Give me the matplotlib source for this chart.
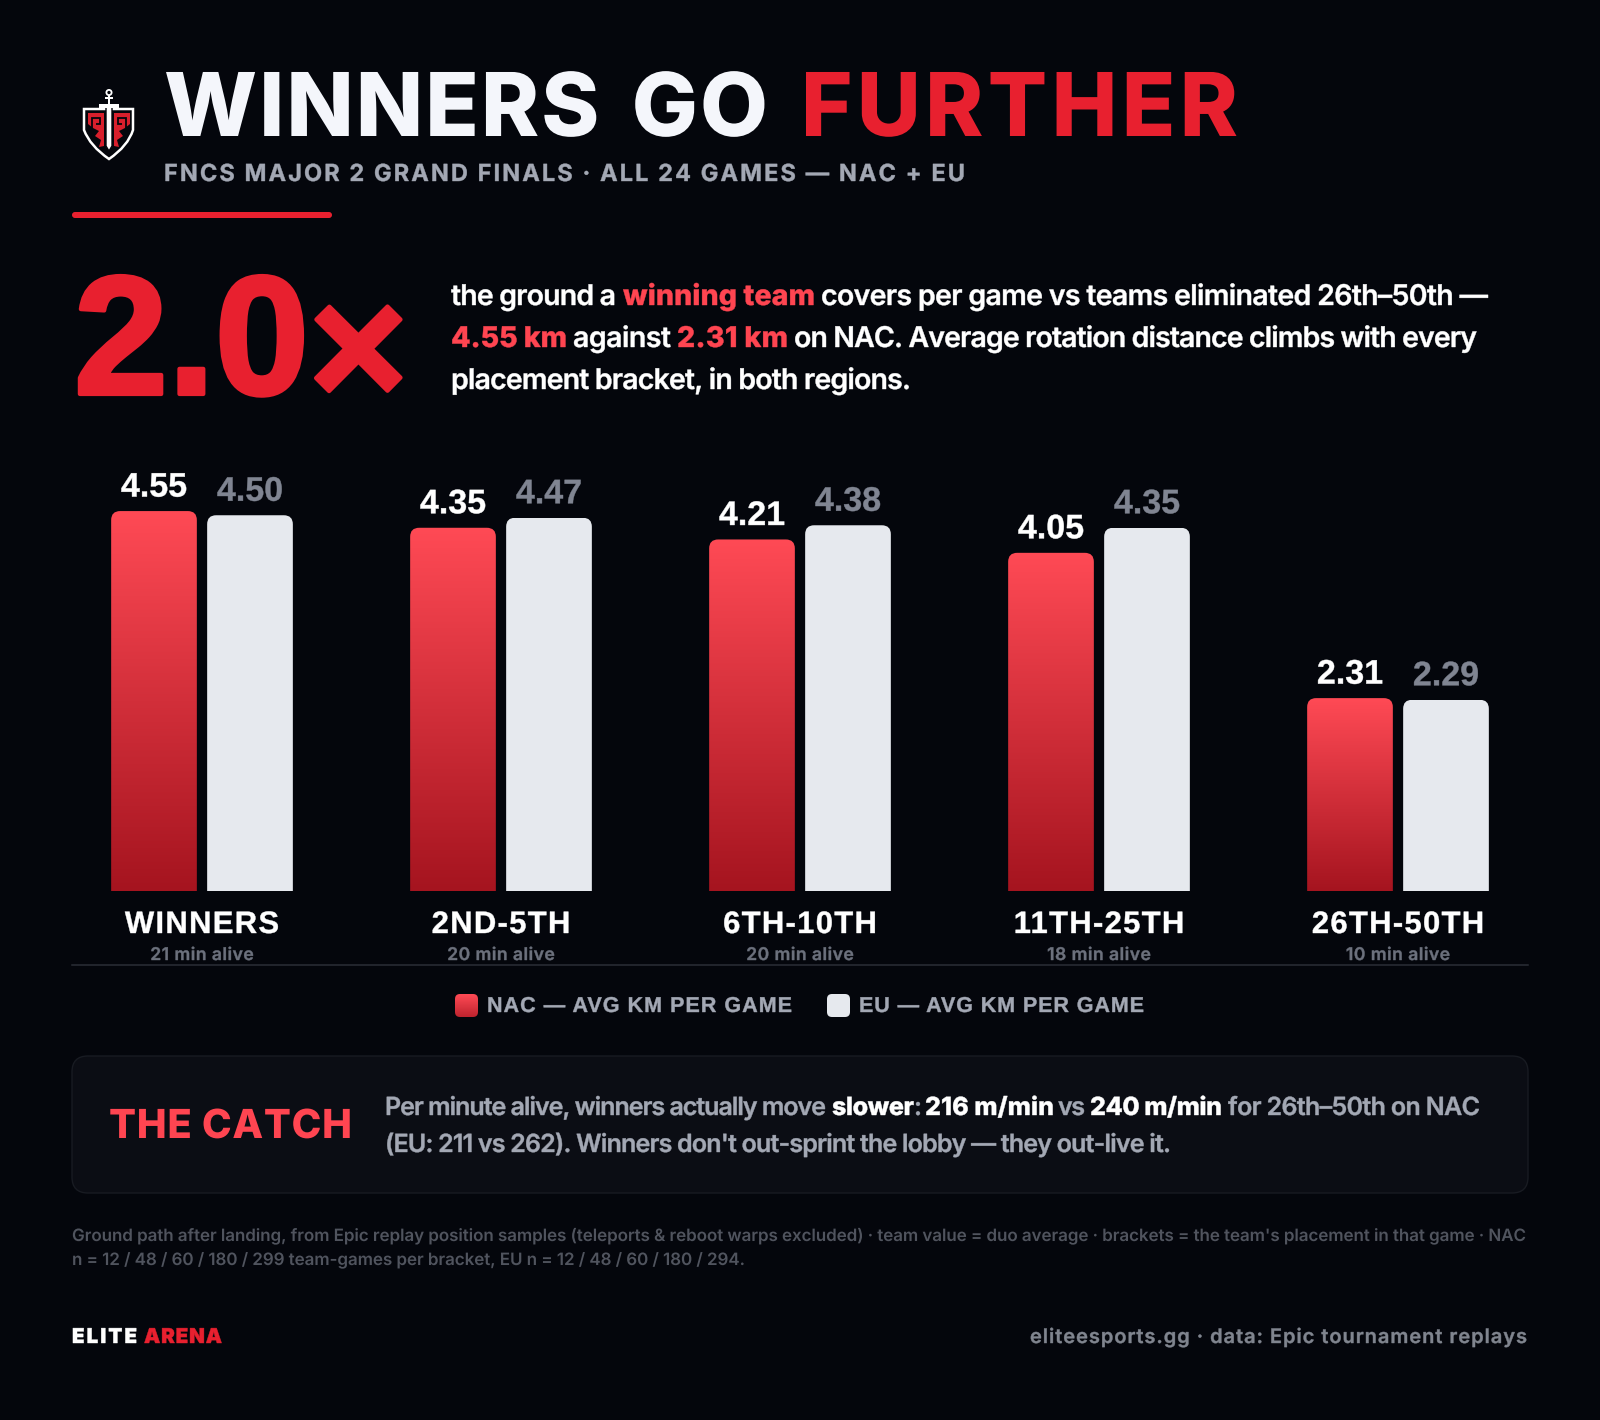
import numpy as np
import matplotlib
matplotlib.use('Agg')
import matplotlib.pyplot as plt
from matplotlib import _text_helpers
from matplotlib.colors import LinearSegmentedColormap, to_rgba
from matplotlib.font_manager import findfont, get_font
from matplotlib.ft2font import LoadFlags
from matplotlib.patches import FancyBboxPatch, PathPatch, Polygon, Circle
from matplotlib.path import Path
from matplotlib.text import Text
from matplotlib.textpath import TextPath
from matplotlib.transforms import Affine2D, Bbox, offset_copy

categories = ['WINNERS', '2ND-5TH', '6TH-10TH', '11TH-25TH', '26TH-50TH']
minutes_alive = [21, 20, 20, 18, 10]
nac_km = [4.55, 4.35, 4.21, 4.05, 2.31]
eu_km = [4.50, 4.47, 4.38, 4.35, 2.29]

BG = '#04060c'
RED = '#e8202f'
CORAL = '#ff4551'
GREY = '#a3a8b4'
ARIAL = 'Liberation Sans'
red_grad = LinearSegmentedColormap.from_list('redgrad', ['#a5141f', '#ff4a55'])

W, H = 1600, 1420
fig = plt.figure(figsize=(W / 100, H / 100), dpi=100, facecolor=BG)

# pixel canvas behind everything, for the text blocks
bg = fig.add_axes([0, 0, 1, 1])
bg.set_xlim(0, W)
bg.set_ylim(H, 0)
bg.axis('off')


class TrackedText(Text):
    # matplotlib has no letter-spacing, so lay the glyphs out by hand
    def __init__(self, x, y, s, px, width=None, tracking=0, extra_space=0, stroke=0.3, glyph_drop=None,
                 family='Inter', **kw):
        super().__init__(x, y, s, fontsize=px * 0.72, va='baseline', family=family, **kw)
        self.px = px
        self.fit_width = width
        self.tracking = tracking
        self.extra_space = extra_space
        self.stroke = stroke
        self.glyph_drop = glyph_drop or {}

    def layout_glyphs(self):
        s = self.get_text()
        font = get_font(findfont(self.get_fontproperties()))
        font.set_size(self.get_fontsize(), 100)
        items = list(_text_helpers.layout(s, font))
        natural = items[-1].x + font.load_char(ord(s[-1]), flags=LoadFlags.NO_HINTING).linearHoriAdvance / 65536
        natural += self.extra_space * s.count(' ')
        tr = self.tracking
        if self.fit_width is not None and len(s) > 1:
            tr = (self.fit_width - natural) / (len(s) - 1)
        total = natural + tr * (len(s) - 1)
        return items, tr, total

    def origin(self, total):
        X, Y = self.get_transform().transform(self.get_position())
        shift = {'left': 0, 'center': total / 2, 'right': total}[self.get_ha()]
        return X - shift, Y

    def get_window_extent(self, renderer=None, dpi=None):
        _, _, total = self.layout_glyphs()
        X, Y = self.origin(total)
        return Bbox.from_extents(X, Y - 0.1 * self.px, X + total, Y + 0.75 * self.px)

    def draw(self, renderer):
        if not self.get_visible() or not self.get_text():
            return
        items, tr, total = self.layout_glyphs()
        X, Y = self.origin(total)
        rgba = to_rgba(self.get_color())
        gc = renderer.new_gc()
        # thin outline gives the heavier screen rendering of the original
        gc.set_foreground(rgba)
        gc.set_linewidth(self.stroke)
        gc.set_snap(False)
        shift = 0
        for i, item in enumerate(items):
            if item.char == ' ':
                shift += self.extra_space
                continue
            glyph = TextPath((0, 0), item.char, size=self.px, prop=self.get_fontproperties())
            drop = self.glyph_drop.get(item.char, 0)
            renderer.draw_path(gc, glyph, Affine2D().translate(X + item.x + i * tr + shift, Y - drop), rgba)
        gc.restore()


def put(x, y, s, px, color, weight=700, x1=None, tracking=0, **kw):
    width = None if x1 is None else x1 - x
    t = TrackedText(x, y, s, px, width=width, tracking=tracking, color=color, fontweight=weight, **kw)
    bg.add_artist(t)
    return t


# header
put(164, 136, 'WINNERS GO', 88, '#f4f6fb', 800, x1=768, extra_space=9, stroke=0)
put(801, 136, 'FURTHER', 88, RED, 800, x1=1238, stroke=0)
put(164, 181, 'FNCS MAJOR 2 GRAND FINALS · ALL 24 GAMES — NAC + EU', 23.5, GREY, 700, x1=965)
bg.add_patch(FancyBboxPatch((72, 212), 260, 6, boxstyle='round,pad=0,rounding_size=3', fc=RED, ec='none'))

# shield logo
shield = Path([(84, 109), (133, 109), (133, 130), (128, 146), (109, 159), (90, 146), (84, 130), (84, 109)],
              [Path.MOVETO, Path.LINETO, Path.LINETO, Path.CURVE3, Path.CURVE3, Path.CURVE3, Path.CURVE3, Path.CLOSEPOLY])
bg.add_patch(PathPatch(shield, fc=BG, ec='white', lw=1.8))
# red lightning panels either side of the sword
left_red = [(88, 113), (104, 113), (104, 146), (99, 147), (101, 140), (95, 136), (99, 131), (93, 128), (88, 124)]
right_red = [(130 - (px - 88), py) for px, py in left_red]
bg.add_patch(Polygon(left_red, fc='#d81f2c', ec='none'))
bg.add_patch(Polygon(right_red, fc='#d81f2c', ec='none'))
for pts in ([(92, 128), (92, 118), (100, 118), (100, 124), (96, 124)], [(126, 128), (126, 118), (118, 118), (118, 124), (122, 124)]):
    bg.add_patch(Polygon(pts, closed=False, fc='none', ec=BG, lw=1.3))
bg.add_patch(Polygon([(106, 106), (112, 106), (112, 146), (109, 151), (106, 146)], fc='white', ec=BG, lw=1))
bg.add_patch(Polygon([(99, 104), (119, 104), (119, 108), (99, 108)], fc='white', ec='none'))
bg.add_patch(Polygon([(108, 95), (110, 95), (110, 105), (108, 105)], fc='white', ec='none'))
bg.add_patch(Polygon([(105, 97), (113, 97), (113, 99), (105, 99)], fc='white', ec='none'))
bg.add_patch(Circle((109, 92.5), 2.6, fc=BG, ec='white', lw=1.3))

# big number and lead paragraph
put(74, 394, '2.0×', 169, RED, 700, tracking=0, family=ARIAL, stroke=3, glyph_drop={'×': 11})
lead = [
    (451, 305, 'the ground a', 'white', 600, 616), (623, 305, 'winning team', CORAL, 800, 815),
    (821, 305, 'covers per game vs teams eliminated 26th–50th —', 'white', 600, 1488),
    (451, 347, '4.55 km', CORAL, 800, 567), (573, 347, 'against', 'white', 600, 671),
    (677, 347, '2.31 km', CORAL, 800, 788),
    (794, 347, 'on NAC. Average rotation distance climbs with every', 'white', 600, 1477),
    (451, 389, 'placement bracket, in both regions.', 'white', 600, 911),
]
for x, y, s, c, w, x1 in lead:
    put(x, y, s, 28.5, c, w, x1=x1)

# chart axes: x range and y range line up with the pixel layout
ax_left, ax_right, base, top = 72, 1528, 891, 891 - 83.5 * 5.5
ax = fig.add_axes([ax_left / W, 1 - base / H, (ax_right - ax_left) / W, (base - top) / H])
ax.set_facecolor('none')
ax.axis('off')
xlim = ((ax_left - 202) / 299, (ax_right - 202) / 299)
ylim = (0, 5.5)
x = np.arange(len(categories))
bar_w = 85.7 / 299
off = 48 / 299


def rounded_top(x0, x1, y1, r=9):
    rx, ry = r / 299, r / 83.5
    verts = [(x0, 0), (x0, y1 - ry), (x0, y1), (x0 + rx, y1), (x1 - rx, y1), (x1, y1), (x1, y1 - ry), (x1, 0), (x0, 0)]
    codes = [Path.MOVETO, Path.LINETO, Path.CURVE3, Path.CURVE3, Path.LINETO, Path.CURVE3, Path.CURVE3, Path.LINETO, Path.CLOSEPOLY]
    return Path(verts, codes)


nac_bars = ax.bar(x - off, nac_km, bar_w, color='none')
eu_bars = ax.bar(x + off, eu_km, bar_w, color='#e6e9ee')
for b in nac_bars:
    x0, x1, v = b.get_x(), b.get_x() + b.get_width(), b.get_height()
    im = ax.imshow(np.linspace(1, 0, 256).reshape(-1, 1), extent=(x0, x1, 0, v), cmap=red_grad,
                   aspect='auto', origin='upper', zorder=2)
    im.set_clip_path(PathPatch(rounded_top(x0, x1, v), transform=ax.transData))
for b in eu_bars:
    x0, x1, v = b.get_x(), b.get_x() + b.get_width(), b.get_height()
    b.set_clip_path(PathPatch(rounded_top(x0, x1, v), transform=ax.transData))
ax.set_xlim(xlim)
ax.set_ylim(ylim)


def chart_label(x, y, s, dy, px, color, weight, tracking, family='Inter'):
    tr = offset_copy(ax.transData, fig=fig, y=dy * 0.72, units='points')
    t = TrackedText(x, y, s, px, tracking=tracking, color=color, fontweight=weight, ha='center',
                    transform=tr, family=family)
    ax.add_artist(t)


for i in range(len(categories)):
    chart_label(x[i] - off, nac_km[i], f'{nac_km[i]:.2f}', 14.5, 34, 'white', 700, 0, ARIAL)
    chart_label(x[i] + off, eu_km[i], f'{eu_km[i]:.2f}', 14.5, 34, '#808592', 700, 0, ARIAL)
    chart_label(x[i], 0, categories[i], -42, 31, 'white', 700, 1.3, ARIAL)
    chart_label(x[i], 0, f'{minutes_alive[i]} min alive', -69, 17.5, '#6c717d', 600, 0.5)

bg.plot([72, 1528], [965, 965], color='#2a2e36', lw=1.1)

# legend
swatch = FancyBboxPatch((455, 994), 23, 23, boxstyle='round,pad=0,rounding_size=5', fc='none', ec='none')
bg.add_patch(swatch)
im = bg.imshow(np.linspace(1, 0, 64).reshape(-1, 1), extent=(455, 478, 1017, 994), cmap=red_grad,
               aspect='auto', origin='upper', vmin=-0.4, vmax=1)
im.set_clip_path(swatch)
bg.add_patch(FancyBboxPatch((827, 994), 23, 23, boxstyle='round,pad=0,rounding_size=5', fc='#e6e9ee', ec='none'))
put(487, 1012, 'NAC — AVG KM PER GAME', 21.5, GREY, 700, x1=792, family=ARIAL)
put(859, 1012, 'EU — AVG KM PER GAME', 21.5, GREY, 700, x1=1144, family=ARIAL)
bg.set_xlim(0, W)
bg.set_ylim(H, 0)

# catch card
bg.add_patch(FancyBboxPatch((72, 1056), 1456, 137, boxstyle='round,pad=0,rounding_size=16',
                            fc='#0b0d14', ec='#181b22', lw=1))
put(109, 1138, 'THE CATCH', 40, CORAL, 800, x1=352, stroke=0)
catch = [
    (385, 1115, 'Per minute alive, winners actually move', GREY, 600, 826), (832, 1115, 'slower', 'white', 800, 914),
    (914, 1115, ':', GREY, 600, None), (925, 1115, '216 m/min', 'white', 800, 1054), (1058, 1115, 'vs', GREY, 600, 1085),
    (1090, 1115, '240 m/min', 'white', 800, 1222), (1228, 1115, 'for 26th–50th on NAC', GREY, 600, 1480),
    (385, 1152, "(EU: 211 vs 262). Winners don't out-sprint the lobby — they out-live it.", GREY, 600, 1171),
]
for px, py, s, c, w, x1 in catch:
    put(px, py, s, 25, c, w, x1=x1)

# footnote and footer
put(72, 1241, "Ground path after landing, from Epic replay position samples (teleports & reboot warps excluded) · team value = duo average · brackets = the team's placement in that game · NAC",
    17, '#50545e', 600, x1=1526, stroke=0)
put(72, 1265, 'n = 12 / 48 / 60 / 180 / 299 team-games per bracket, EU n = 12 / 48 / 60 / 180 / 294.', 17, '#50545e', 600, x1=745, stroke=0)
put(72, 1343, 'ELITE', 20.5, 'white', 900, x1=137)
put(144, 1343, 'ARENA', 20.5, RED, 900, x1=222)
put(1030, 1343, 'eliteesports.gg · data: Epic tournament replays', 20, '#80858f', 600, x1=1527)

fig.savefig('out.png', dpi=100, facecolor=BG)
